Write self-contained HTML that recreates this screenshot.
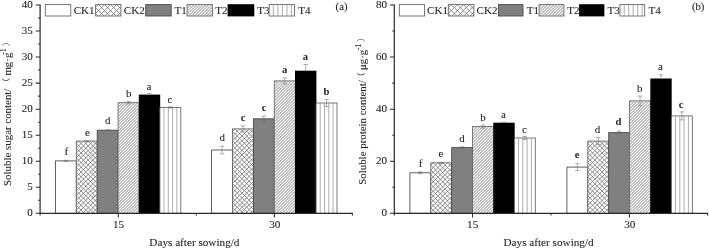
<!DOCTYPE html>
<html lang="en"><head><meta charset="utf-8"><title>Soluble sugar and protein content</title>
<style>
html,body{margin:0;padding:0;background:#fff;}
body{width:709px;height:250px;overflow:hidden;}
svg{display:block;}
text{font-family:"Liberation Serif","Noto Serif CJK SC",serif;fill:#222;stroke:#222;stroke-width:0.08px;}
.t{font-size:10.9px;}
.lg{font-size:11.1px;}
.l{font-size:10.9px;text-anchor:middle;}
.lb{font-size:10.6px;text-anchor:middle;font-weight:bold;stroke-width:0;}
.yt{font-size:11.1px;text-anchor:end;}
.xt{font-size:11.2px;text-anchor:middle;}
</style></head><body>
<svg width="709" height="250" viewBox="0 0 709 250">
<rect width="709" height="250" fill="#fff"/>

<g>
<rect x="55.4" y="160.9" width="20.9" height="52.4" fill="#fff" stroke="#444" stroke-width="0.85"/>
<path d="M65.85,160.3 V161.5 M63.55,160.3 H68.15 M63.55,161.5 H68.15" stroke="#707070" stroke-width="0.55" fill="none"/>
<text class="l" x="66.4" y="155.3">f</text>
<rect x="76.3" y="141.1" width="20.9" height="72.2" fill="#fff" stroke="#606060" stroke-width="0.85"/>
<path d="M76.3,143.47 L78.67,141.1 M76.3,148.22 L83.42,141.1 M76.3,152.97 L88.17,141.1 M76.3,157.72 L92.92,141.1 M76.3,162.47 L97.2,141.57 M76.3,167.22 L97.2,146.32 M76.3,171.97 L97.2,151.07 M76.3,176.72 L97.2,155.82 M76.3,181.47 L97.2,160.57 M76.3,186.22 L97.2,165.32 M76.3,190.97 L97.2,170.07 M76.3,195.72 L97.2,174.82 M76.3,200.47 L97.2,179.57 M76.3,205.22 L97.2,184.32 M76.3,209.97 L97.2,189.07 M77.72,213.3 L97.2,193.82 M82.47,213.3 L97.2,198.57 M87.22,213.3 L97.2,203.32 M91.97,213.3 L97.2,208.07 M96.72,213.3 L97.2,212.82 M92.92,141.1 L97.2,145.38 M88.17,141.1 L97.2,150.12 M83.42,141.1 L97.2,154.88 M78.67,141.1 L97.2,159.62 M76.3,143.47 L97.2,164.38 M76.3,148.22 L97.2,169.12 M76.3,152.97 L97.2,173.88 M76.3,157.72 L97.2,178.62 M76.3,162.47 L97.2,183.38 M76.3,167.22 L97.2,188.12 M76.3,171.97 L97.2,192.88 M76.3,176.72 L97.2,197.62 M76.3,181.47 L97.2,202.38 M76.3,186.22 L97.2,207.12 M76.3,190.97 L97.2,211.88 M76.3,195.72 L93.88,213.3 M76.3,200.47 L89.13,213.3 M76.3,205.23 L84.38,213.3 M76.3,209.98 L79.62,213.3" stroke="#707070" stroke-width="0.8" fill="none"/>
<path d="M86.75,140.5 V141.7 M84.45,140.5 H89.05 M84.45,141.7 H89.05" stroke="#707070" stroke-width="0.55" fill="none"/>
<text class="l" x="87.3" y="135.6">e</text>
<rect x="97.2" y="130.2" width="20.9" height="83.1" fill="#808080" stroke="#4a4a4a" stroke-width="0.9"/>
<path d="M107.65,129.7 V130.7 M105.35,129.7 H109.95 M105.35,130.7 H109.95" stroke="#707070" stroke-width="0.55" fill="none"/>
<text class="l" x="107.8" y="123.8">d</text>
<rect x="118.1" y="102.7" width="20.9" height="110.6" fill="#fff" stroke="#606060" stroke-width="0.85"/>
<path d="M118.1,104.4 L119.8,102.7 M118.1,107.4 L122.8,102.7 M118.1,110.4 L125.8,102.7 M118.1,113.4 L128.8,102.7 M118.1,116.4 L131.8,102.7 M118.1,119.4 L134.8,102.7 M118.1,122.4 L137.8,102.7 M118.1,125.4 L139,104.5 M118.1,128.4 L139,107.5 M118.1,131.4 L139,110.5 M118.1,134.4 L139,113.5 M118.1,137.4 L139,116.5 M118.1,140.4 L139,119.5 M118.1,143.4 L139,122.5 M118.1,146.4 L139,125.5 M118.1,149.4 L139,128.5 M118.1,152.4 L139,131.5 M118.1,155.4 L139,134.5 M118.1,158.4 L139,137.5 M118.1,161.4 L139,140.5 M118.1,164.4 L139,143.5 M118.1,167.4 L139,146.5 M118.1,170.4 L139,149.5 M118.1,173.4 L139,152.5 M118.1,176.4 L139,155.5 M118.1,179.4 L139,158.5 M118.1,182.4 L139,161.5 M118.1,185.4 L139,164.5 M118.1,188.4 L139,167.5 M118.1,191.4 L139,170.5 M118.1,194.4 L139,173.5 M118.1,197.4 L139,176.5 M118.1,200.4 L139,179.5 M118.1,203.4 L139,182.5 M118.1,206.4 L139,185.5 M118.1,209.4 L139,188.5 M118.1,212.4 L139,191.5 M120.2,213.3 L139,194.5 M123.2,213.3 L139,197.5 M126.2,213.3 L139,200.5 M129.2,213.3 L139,203.5 M132.2,213.3 L139,206.5 M135.2,213.3 L139,209.5 M138.2,213.3 L139,212.5" stroke="#808080" stroke-width="1.0" fill="none"/>
<path d="M128.55,101.5 V103.9 M126.25,101.5 H130.85 M126.25,103.9 H130.85" stroke="#707070" stroke-width="0.55" fill="none"/>
<text class="l" x="128.7" y="97">b</text>
<rect x="138.8" y="94.6" width="21.4" height="118.7" fill="#000"/>
<path d="M149.45,93.7 V94.9 M147.15,93.7 H151.75" stroke="#888" stroke-width="0.7" fill="none"/>
<text class="l" x="149" y="90.2">a</text>
<rect x="159.9" y="107.4" width="20.9" height="105.9" fill="#fff" stroke="#606060" stroke-width="0.85"/>
<path d="M164,107.4 V213.3 M168.3,107.4 V213.3 M172.6,107.4 V213.3 M176.9,107.4 V213.3" stroke="#8a8a8a" stroke-width="0.7" fill="none"/>
<path d="M170.35,106.8 V108 M168.05,106.8 H172.65 M168.05,108 H172.65" stroke="#707070" stroke-width="0.55" fill="none"/>
<text class="l" x="170" y="102.6">c</text>
<rect x="211.6" y="150" width="20.9" height="63.3" fill="#fff" stroke="#444" stroke-width="0.85"/>
<path d="M222.05,146.2 V153.8 M219.75,146.2 H224.35 M219.75,153.8 H224.35" stroke="#707070" stroke-width="0.55" fill="none"/>
<text class="l" x="222.2" y="140.8">d</text>
<rect x="232.5" y="128.9" width="20.9" height="84.4" fill="#fff" stroke="#606060" stroke-width="0.85"/>
<path d="M232.5,131.27 L234.87,128.9 M232.5,136.02 L239.62,128.9 M232.5,140.77 L244.37,128.9 M232.5,145.52 L249.12,128.9 M232.5,150.27 L253.4,129.37 M232.5,155.02 L253.4,134.12 M232.5,159.77 L253.4,138.87 M232.5,164.52 L253.4,143.62 M232.5,169.27 L253.4,148.37 M232.5,174.02 L253.4,153.12 M232.5,178.77 L253.4,157.87 M232.5,183.52 L253.4,162.62 M232.5,188.27 L253.4,167.37 M232.5,193.02 L253.4,172.12 M232.5,197.77 L253.4,176.87 M232.5,202.52 L253.4,181.62 M232.5,207.27 L253.4,186.37 M232.5,212.02 L253.4,191.12 M235.97,213.3 L253.4,195.87 M240.72,213.3 L253.4,200.62 M245.47,213.3 L253.4,205.37 M250.22,213.3 L253.4,210.12 M249.12,128.9 L253.4,133.18 M244.38,128.9 L253.4,137.93 M239.62,128.9 L253.4,142.68 M234.88,128.9 L253.4,147.43 M232.5,131.28 L253.4,152.18 M232.5,136.03 L253.4,156.93 M232.5,140.78 L253.4,161.68 M232.5,145.53 L253.4,166.43 M232.5,150.28 L253.4,171.18 M232.5,155.03 L253.4,175.93 M232.5,159.78 L253.4,180.68 M232.5,164.53 L253.4,185.43 M232.5,169.28 L253.4,190.18 M232.5,174.03 L253.4,194.93 M232.5,178.78 L253.4,199.68 M232.5,183.53 L253.4,204.43 M232.5,188.28 L253.4,209.18 M232.5,193.03 L252.78,213.3 M232.5,197.78 L248.03,213.3 M232.5,202.53 L243.28,213.3 M232.5,207.28 L238.53,213.3 M232.5,212.03 L233.78,213.3" stroke="#707070" stroke-width="0.8" fill="none"/>
<path d="M242.95,125.9 V131.9 M240.65,125.9 H245.25 M240.65,131.9 H245.25" stroke="#707070" stroke-width="0.55" fill="none"/>
<text class="lb" x="243" y="120.6">c</text>
<rect x="253.4" y="118.8" width="20.9" height="94.5" fill="#808080" stroke="#4a4a4a" stroke-width="0.9"/>
<path d="M263.85,116 V121.6 M261.55,116 H266.15 M261.55,121.6 H266.15" stroke="#707070" stroke-width="0.55" fill="none"/>
<text class="lb" x="264" y="111.2">c</text>
<rect x="274.3" y="80.9" width="20.9" height="132.4" fill="#fff" stroke="#606060" stroke-width="0.85"/>
<path d="M274.3,83.2 L276.6,80.9 M274.3,86.2 L279.6,80.9 M274.3,89.2 L282.6,80.9 M274.3,92.2 L285.6,80.9 M274.3,95.2 L288.6,80.9 M274.3,98.2 L291.6,80.9 M274.3,101.2 L294.6,80.9 M274.3,104.2 L295.2,83.3 M274.3,107.2 L295.2,86.3 M274.3,110.2 L295.2,89.3 M274.3,113.2 L295.2,92.3 M274.3,116.2 L295.2,95.3 M274.3,119.2 L295.2,98.3 M274.3,122.2 L295.2,101.3 M274.3,125.2 L295.2,104.3 M274.3,128.2 L295.2,107.3 M274.3,131.2 L295.2,110.3 M274.3,134.2 L295.2,113.3 M274.3,137.2 L295.2,116.3 M274.3,140.2 L295.2,119.3 M274.3,143.2 L295.2,122.3 M274.3,146.2 L295.2,125.3 M274.3,149.2 L295.2,128.3 M274.3,152.2 L295.2,131.3 M274.3,155.2 L295.2,134.3 M274.3,158.2 L295.2,137.3 M274.3,161.2 L295.2,140.3 M274.3,164.2 L295.2,143.3 M274.3,167.2 L295.2,146.3 M274.3,170.2 L295.2,149.3 M274.3,173.2 L295.2,152.3 M274.3,176.2 L295.2,155.3 M274.3,179.2 L295.2,158.3 M274.3,182.2 L295.2,161.3 M274.3,185.2 L295.2,164.3 M274.3,188.2 L295.2,167.3 M274.3,191.2 L295.2,170.3 M274.3,194.2 L295.2,173.3 M274.3,197.2 L295.2,176.3 M274.3,200.2 L295.2,179.3 M274.3,203.2 L295.2,182.3 M274.3,206.2 L295.2,185.3 M274.3,209.2 L295.2,188.3 M274.3,212.2 L295.2,191.3 M276.2,213.3 L295.2,194.3 M279.2,213.3 L295.2,197.3 M282.2,213.3 L295.2,200.3 M285.2,213.3 L295.2,203.3 M288.2,213.3 L295.2,206.3 M291.2,213.3 L295.2,209.3 M294.2,213.3 L295.2,212.3" stroke="#808080" stroke-width="1.0" fill="none"/>
<path d="M284.75,77.9 V83.9 M282.45,77.9 H287.05 M282.45,83.9 H287.05" stroke="#707070" stroke-width="0.55" fill="none"/>
<text class="lb" x="284.7" y="72.6">a</text>
<rect x="295" y="70.7" width="21.4" height="142.6" fill="#000"/>
<path d="M305.65,64.5 V71 M303.35,64.5 H307.95" stroke="#888" stroke-width="0.7" fill="none"/>
<text class="lb" x="305.5" y="59.8">a</text>
<rect x="316.1" y="103" width="20.9" height="110.3" fill="#fff" stroke="#606060" stroke-width="0.85"/>
<path d="M320.2,103 V213.3 M324.5,103 V213.3 M328.8,103 V213.3 M333.1,103 V213.3" stroke="#8a8a8a" stroke-width="0.7" fill="none"/>
<path d="M326.55,99.5 V106.5 M324.25,99.5 H328.85 M324.25,106.5 H328.85" stroke="#707070" stroke-width="0.55" fill="none"/>
<text class="lb" x="326.4" y="94.6">b</text>
<path d="M40.1,4.5 V213.8 M39.6,213.3 H352.8" stroke="#2a2a2a" stroke-width="1.2" fill="none"/>
<text class="yt" x="32.8" y="216.3">0</text>
<text class="yt" x="32.8" y="190.26">5</text>
<text class="yt" x="32.8" y="164.23">10</text>
<text class="yt" x="32.8" y="138.19">15</text>
<text class="yt" x="32.8" y="112.15">20</text>
<text class="yt" x="32.8" y="86.11">25</text>
<text class="yt" x="32.8" y="60.07">30</text>
<text class="yt" x="32.8" y="34.04">35</text>
<text class="yt" x="32.8" y="8">40</text>
<path d="M35.7,213.3 H40.1 M38.1,200.28 H40.1 M35.7,187.26 H40.1 M38.1,174.24 H40.1 M35.7,161.23 H40.1 M38.1,148.21 H40.1 M35.7,135.19 H40.1 M38.1,122.17 H40.1 M35.7,109.15 H40.1 M38.1,96.13 H40.1 M35.7,83.11 H40.1 M38.1,70.09 H40.1 M35.7,57.07 H40.1 M38.1,44.06 H40.1 M35.7,31.04 H40.1 M38.1,18.02 H40.1 M35.7,5 H40.1 M40.1,213.3 V215.5 M118.3,213.3 V217.5 M196.35,213.3 V215.5 M274.4,213.3 V217.5 M352.4,213.3 V215.5" stroke="#2a2a2a" stroke-width="1.05" fill="none"/>
<text class="xt" x="118.5" y="228.4">15</text>
<text class="xt" x="274.8" y="228.4">30</text>
<text class="xt" x="194.4" y="246.4">Days after sowing/d</text>
<rect x="45.3" y="4.6" width="25.5" height="11.4" fill="#fff" stroke="#606060" stroke-width="0.85"/>
<text class="lg" x="73.7" y="13.7">CK1</text>
<rect x="95.6" y="4.6" width="25.3" height="11.4" fill="#fff" stroke="#606060" stroke-width="0.85"/>
<path d="M95.6,7.6 L98.6,4.6 M95.6,13.6 L104.6,4.6 M99.2,16 L110.6,4.6 M105.2,16 L116.6,4.6 M111.2,16 L120.9,6.3 M117.2,16 L120.9,12.3 M116.6,4.6 L120.9,8.9 M110.6,4.6 L120.9,14.9 M104.6,4.6 L116,16 M98.6,4.6 L110,16 M95.6,7.6 L104,16 M95.6,13.6 L98,16" stroke="#707070" stroke-width="0.8" fill="none"/>
<text class="lg" x="123.8" y="13.7">CK2</text>
<rect x="145.7" y="4.6" width="25.5" height="11.4" fill="#808080" stroke="#4a4a4a" stroke-width="0.9"/>
<text class="lg" x="174.6" y="13.7">T1</text>
<rect x="187.1" y="4.6" width="25.4" height="11.4" fill="#fff" stroke="#606060" stroke-width="0.85"/>
<path d="M187.1,5.4 L187.9,4.6 M187.1,8.4 L190.9,4.6 M187.1,11.4 L193.9,4.6 M187.1,14.4 L196.9,4.6 M188.5,16 L199.9,4.6 M191.5,16 L202.9,4.6 M194.5,16 L205.9,4.6 M197.5,16 L208.9,4.6 M200.5,16 L211.9,4.6 M203.5,16 L212.5,7 M206.5,16 L212.5,10 M209.5,16 L212.5,13" stroke="#808080" stroke-width="1.0" fill="none"/>
<text class="lg" x="215.3" y="13.7">T2</text>
<rect x="227.6" y="4.2" width="26.7" height="12.2" fill="#000"/>
<text class="lg" x="257.2" y="13.7">T3</text>
<rect x="269.1" y="4.6" width="25.4" height="11.4" fill="#fff" stroke="#606060" stroke-width="0.85"/>
<path d="M273.4,4.6 V16 M277.9,4.6 V16 M282.4,4.6 V16 M286.9,4.6 V16 M291.4,4.6 V16" stroke="#8a8a8a" stroke-width="0.7" fill="none"/>
<text class="lg" x="298.3" y="13.7">T4</text>
<text class="t" style="font-size:10.7px" x="335.6" y="10">(a)</text>
<text class="t" transform="translate(11,186) rotate(-90)"><tspan x="0">Soluble sugar content/ </tspan><tspan x="99.6" dy="-1.6" font-size="8.8">（</tspan><tspan x="110.4" dy="1.6">mg·g</tspan><tspan x="131.2" dy="-5" font-size="8">-1</tspan><tspan x="139.8" dy="3.4" font-size="8.8">）</tspan></text>
</g>
<g>
<rect x="409.9" y="172.8" width="20.9" height="40.5" fill="#fff" stroke="#444" stroke-width="0.85"/>
<path d="M420.35,171.8 V173.8 M418.05,171.8 H422.65 M418.05,173.8 H422.65" stroke="#707070" stroke-width="0.55" fill="none"/>
<text class="l" x="420.5" y="167.2">f</text>
<rect x="430.8" y="162.8" width="20.9" height="50.5" fill="#fff" stroke="#606060" stroke-width="0.85"/>
<path d="M430.8,165.17 L433.17,162.8 M430.8,169.92 L437.92,162.8 M430.8,174.67 L442.67,162.8 M430.8,179.42 L447.42,162.8 M430.8,184.17 L451.7,163.27 M430.8,188.92 L451.7,168.02 M430.8,193.67 L451.7,172.77 M430.8,198.42 L451.7,177.52 M430.8,203.17 L451.7,182.27 M430.8,207.92 L451.7,187.02 M430.8,212.67 L451.7,191.77 M434.92,213.3 L451.7,196.52 M439.67,213.3 L451.7,201.27 M444.42,213.3 L451.7,206.02 M449.17,213.3 L451.7,210.77 M447.42,162.8 L451.7,167.07 M442.67,162.8 L451.7,171.82 M437.92,162.8 L451.7,176.57 M433.17,162.8 L451.7,181.32 M430.8,165.17 L451.7,186.07 M430.8,169.92 L451.7,190.82 M430.8,174.67 L451.7,195.57 M430.8,179.42 L451.7,200.32 M430.8,184.17 L451.7,205.07 M430.8,188.92 L451.7,209.82 M430.8,193.67 L450.43,213.3 M430.8,198.42 L445.68,213.3 M430.8,203.17 L440.93,213.3 M430.8,207.92 L436.18,213.3 M430.8,212.67 L431.43,213.3" stroke="#707070" stroke-width="0.8" fill="none"/>
<path d="M441.25,162.2 V163.4 M438.95,162.2 H443.55 M438.95,163.4 H443.55" stroke="#707070" stroke-width="0.55" fill="none"/>
<text class="l" x="440.8" y="157.2">e</text>
<rect x="451.7" y="147.6" width="20.9" height="65.7" fill="#808080" stroke="#4a4a4a" stroke-width="0.9"/>
<path d="M462.15,146.8 V148.4 M459.85,146.8 H464.45 M459.85,148.4 H464.45" stroke="#707070" stroke-width="0.55" fill="none"/>
<text class="l" x="462" y="142.4">d</text>
<rect x="472.6" y="126.6" width="20.9" height="86.7" fill="#fff" stroke="#606060" stroke-width="0.85"/>
<path d="M472.6,127.9 L473.9,126.6 M472.6,130.9 L476.9,126.6 M472.6,133.9 L479.9,126.6 M472.6,136.9 L482.9,126.6 M472.6,139.9 L485.9,126.6 M472.6,142.9 L488.9,126.6 M472.6,145.9 L491.9,126.6 M472.6,148.9 L493.5,128 M472.6,151.9 L493.5,131 M472.6,154.9 L493.5,134 M472.6,157.9 L493.5,137 M472.6,160.9 L493.5,140 M472.6,163.9 L493.5,143 M472.6,166.9 L493.5,146 M472.6,169.9 L493.5,149 M472.6,172.9 L493.5,152 M472.6,175.9 L493.5,155 M472.6,178.9 L493.5,158 M472.6,181.9 L493.5,161 M472.6,184.9 L493.5,164 M472.6,187.9 L493.5,167 M472.6,190.9 L493.5,170 M472.6,193.9 L493.5,173 M472.6,196.9 L493.5,176 M472.6,199.9 L493.5,179 M472.6,202.9 L493.5,182 M472.6,205.9 L493.5,185 M472.6,208.9 L493.5,188 M472.6,211.9 L493.5,191 M474.2,213.3 L493.5,194 M477.2,213.3 L493.5,197 M480.2,213.3 L493.5,200 M483.2,213.3 L493.5,203 M486.2,213.3 L493.5,206 M489.2,213.3 L493.5,209 M492.2,213.3 L493.5,212" stroke="#808080" stroke-width="1.0" fill="none"/>
<path d="M483.05,125.1 V128.1 M480.75,125.1 H485.35 M480.75,128.1 H485.35" stroke="#707070" stroke-width="0.55" fill="none"/>
<text class="l" x="483" y="121.2">b</text>
<rect x="493.3" y="122.7" width="21.4" height="90.6" fill="#000"/>
<path d="M503.95,122.2 V123 M501.65,122.2 H506.25" stroke="#888" stroke-width="0.7" fill="none"/>
<text class="l" x="503.4" y="118">a</text>
<rect x="514.4" y="138" width="20.9" height="75.3" fill="#fff" stroke="#606060" stroke-width="0.85"/>
<path d="M518.5,138 V213.3 M522.8,138 V213.3 M527.1,138 V213.3 M531.4,138 V213.3" stroke="#8a8a8a" stroke-width="0.7" fill="none"/>
<path d="M524.85,136.5 V139.5 M522.55,136.5 H527.15 M522.55,139.5 H527.15" stroke="#707070" stroke-width="0.55" fill="none"/>
<text class="l" x="524.5" y="132.7">c</text>
<rect x="566.9" y="167.1" width="20.9" height="46.2" fill="#fff" stroke="#444" stroke-width="0.85"/>
<path d="M577.35,163.6 V170.6 M575.05,163.6 H579.65 M575.05,170.6 H579.65" stroke="#707070" stroke-width="0.55" fill="none"/>
<text class="lb" x="577" y="157.8">e</text>
<rect x="587.8" y="141.1" width="20.9" height="72.2" fill="#fff" stroke="#606060" stroke-width="0.85"/>
<path d="M587.8,143.48 L590.17,141.1 M587.8,148.23 L594.92,141.1 M587.8,152.98 L599.67,141.1 M587.8,157.73 L604.42,141.1 M587.8,162.48 L608.7,141.58 M587.8,167.23 L608.7,146.33 M587.8,171.98 L608.7,151.08 M587.8,176.73 L608.7,155.83 M587.8,181.48 L608.7,160.58 M587.8,186.23 L608.7,165.33 M587.8,190.98 L608.7,170.08 M587.8,195.73 L608.7,174.83 M587.8,200.48 L608.7,179.58 M587.8,205.23 L608.7,184.33 M587.8,209.98 L608.7,189.08 M589.22,213.3 L608.7,193.83 M593.97,213.3 L608.7,198.58 M598.72,213.3 L608.7,203.33 M603.47,213.3 L608.7,208.08 M608.22,213.3 L608.7,212.83 M604.42,141.1 L608.7,145.38 M599.67,141.1 L608.7,150.12 M594.92,141.1 L608.7,154.88 M590.17,141.1 L608.7,159.62 M587.8,143.48 L608.7,164.38 M587.8,148.23 L608.7,169.12 M587.8,152.98 L608.7,173.88 M587.8,157.73 L608.7,178.62 M587.8,162.48 L608.7,183.38 M587.8,167.23 L608.7,188.12 M587.8,171.98 L608.7,192.88 M587.8,176.73 L608.7,197.62 M587.8,181.48 L608.7,202.38 M587.8,186.23 L608.7,207.12 M587.8,190.98 L608.7,211.88 M587.8,195.73 L605.38,213.3 M587.8,200.48 L600.62,213.3 M587.8,205.23 L595.88,213.3 M587.8,209.98 L591.12,213.3" stroke="#707070" stroke-width="0.8" fill="none"/>
<path d="M598.25,137.6 V144.6 M595.95,137.6 H600.55 M595.95,144.6 H600.55" stroke="#707070" stroke-width="0.55" fill="none"/>
<text class="l" x="597.4" y="132.7">d</text>
<rect x="608.7" y="132.6" width="20.9" height="80.7" fill="#808080" stroke="#4a4a4a" stroke-width="0.9"/>
<path d="M619.15,131.1 V134.1 M616.85,131.1 H621.45 M616.85,134.1 H621.45" stroke="#707070" stroke-width="0.55" fill="none"/>
<text class="lb" x="618.5" y="125">d</text>
<rect x="629.6" y="100.9" width="20.9" height="112.4" fill="#fff" stroke="#606060" stroke-width="0.85"/>
<path d="M629.6,102.9 L631.6,100.9 M629.6,105.9 L634.6,100.9 M629.6,108.9 L637.6,100.9 M629.6,111.9 L640.6,100.9 M629.6,114.9 L643.6,100.9 M629.6,117.9 L646.6,100.9 M629.6,120.9 L649.6,100.9 M629.6,123.9 L650.5,103 M629.6,126.9 L650.5,106 M629.6,129.9 L650.5,109 M629.6,132.9 L650.5,112 M629.6,135.9 L650.5,115 M629.6,138.9 L650.5,118 M629.6,141.9 L650.5,121 M629.6,144.9 L650.5,124 M629.6,147.9 L650.5,127 M629.6,150.9 L650.5,130 M629.6,153.9 L650.5,133 M629.6,156.9 L650.5,136 M629.6,159.9 L650.5,139 M629.6,162.9 L650.5,142 M629.6,165.9 L650.5,145 M629.6,168.9 L650.5,148 M629.6,171.9 L650.5,151 M629.6,174.9 L650.5,154 M629.6,177.9 L650.5,157 M629.6,180.9 L650.5,160 M629.6,183.9 L650.5,163 M629.6,186.9 L650.5,166 M629.6,189.9 L650.5,169 M629.6,192.9 L650.5,172 M629.6,195.9 L650.5,175 M629.6,198.9 L650.5,178 M629.6,201.9 L650.5,181 M629.6,204.9 L650.5,184 M629.6,207.9 L650.5,187 M629.6,210.9 L650.5,190 M630.2,213.3 L650.5,193 M633.2,213.3 L650.5,196 M636.2,213.3 L650.5,199 M639.2,213.3 L650.5,202 M642.2,213.3 L650.5,205 M645.2,213.3 L650.5,208 M648.2,213.3 L650.5,211" stroke="#808080" stroke-width="1.0" fill="none"/>
<path d="M640.05,96.1 V105.7 M637.75,96.1 H642.35 M637.75,105.7 H642.35" stroke="#707070" stroke-width="0.55" fill="none"/>
<text class="l" x="639.7" y="91.7">b</text>
<rect x="650.3" y="78.5" width="21.4" height="134.8" fill="#000"/>
<path d="M660.95,74.8 V78.8 M658.65,74.8 H663.25" stroke="#888" stroke-width="0.7" fill="none"/>
<text class="l" x="660.3" y="70.4">a</text>
<rect x="671.4" y="115.9" width="20.9" height="97.4" fill="#fff" stroke="#606060" stroke-width="0.85"/>
<path d="M675.5,115.9 V213.3 M679.8,115.9 V213.3 M684.1,115.9 V213.3 M688.4,115.9 V213.3" stroke="#8a8a8a" stroke-width="0.7" fill="none"/>
<path d="M681.85,111.9 V119.9 M679.55,111.9 H684.15 M679.55,119.9 H684.15" stroke="#707070" stroke-width="0.55" fill="none"/>
<text class="lb" x="681" y="107.6">c</text>
<path d="M394.3,4.5 V213.8 M393.8,213.3 H708" stroke="#2a2a2a" stroke-width="1.2" fill="none"/>
<text class="yt" x="387" y="216.3">0</text>
<text class="yt" x="387" y="164.23">20</text>
<text class="yt" x="387" y="112.15">40</text>
<text class="yt" x="387" y="60.07">60</text>
<text class="yt" x="387" y="8">80</text>
<path d="M389.9,213.3 H394.3 M392.3,187.26 H394.3 M389.9,161.23 H394.3 M392.3,135.19 H394.3 M389.9,109.15 H394.3 M392.3,83.11 H394.3 M389.9,57.07 H394.3 M392.3,31.04 H394.3 M389.9,5 H394.3 M394.3,213.3 V215.5 M472.5,213.3 V217.5 M550.95,213.3 V215.5 M629.4,213.3 V217.5 M707.6,213.3 V215.5" stroke="#2a2a2a" stroke-width="1.05" fill="none"/>
<text class="xt" x="472.7" y="228.4">15</text>
<text class="xt" x="629.8" y="228.4">30</text>
<text class="xt" x="548.6" y="246.4">Days after sowing/d</text>
<rect x="399.3" y="4.6" width="25.3" height="11.4" fill="#fff" stroke="#606060" stroke-width="0.85"/>
<text class="lg" x="427.1" y="13.7">CK1</text>
<rect x="448.3" y="4.6" width="25.6" height="11.4" fill="#fff" stroke="#606060" stroke-width="0.85"/>
<path d="M448.3,7.6 L451.3,4.6 M448.3,13.6 L457.3,4.6 M451.9,16 L463.3,4.6 M457.9,16 L469.3,4.6 M463.9,16 L473.9,6 M469.9,16 L473.9,12 M469.3,4.6 L473.9,9.2 M463.3,4.6 L473.9,15.2 M457.3,4.6 L468.7,16 M451.3,4.6 L462.7,16 M448.3,7.6 L456.7,16 M448.3,13.6 L450.7,16" stroke="#707070" stroke-width="0.8" fill="none"/>
<text class="lg" x="476.5" y="13.7">CK2</text>
<rect x="498.5" y="4.6" width="24.5" height="11.4" fill="#808080" stroke="#4a4a4a" stroke-width="0.9"/>
<text class="lg" x="526.8" y="13.7">T1</text>
<rect x="539.1" y="4.6" width="24.8" height="11.4" fill="#fff" stroke="#606060" stroke-width="0.85"/>
<path d="M539.1,7.4 L541.9,4.6 M539.1,10.4 L544.9,4.6 M539.1,13.4 L547.9,4.6 M539.5,16 L550.9,4.6 M542.5,16 L553.9,4.6 M545.5,16 L556.9,4.6 M548.5,16 L559.9,4.6 M551.5,16 L562.9,4.6 M554.5,16 L563.9,6.6 M557.5,16 L563.9,9.6 M560.5,16 L563.9,12.6 M563.5,16 L563.9,15.6" stroke="#808080" stroke-width="1.0" fill="none"/>
<text class="lg" x="567.2" y="13.7">T2</text>
<rect x="579.1" y="4.2" width="25.3" height="12.2" fill="#000"/>
<text class="lg" x="607.6" y="13.7">T3</text>
<rect x="619.9" y="4.6" width="24.8" height="11.4" fill="#fff" stroke="#606060" stroke-width="0.85"/>
<path d="M624.2,4.6 V16 M628.7,4.6 V16 M633.2,4.6 V16 M637.7,4.6 V16 M642.2,4.6 V16" stroke="#8a8a8a" stroke-width="0.7" fill="none"/>
<text class="lg" x="648.5" y="13.7">T4</text>
<text class="t" style="font-size:10.7px" x="691.9" y="10">(b)</text>
<text class="t" transform="translate(365.6,184.8) rotate(-90)"><tspan x="0">Soluble protein content/</tspan><tspan x="103.9" dy="-1.6" font-size="8.8">（</tspan><tspan x="114.7" dy="1.6">μg·g</tspan><tspan x="134.5" dy="-5" font-size="8">-1</tspan><tspan x="142.7" dy="3.4" font-size="8.8">）</tspan></text>
</g>
</svg>
</body></html>
